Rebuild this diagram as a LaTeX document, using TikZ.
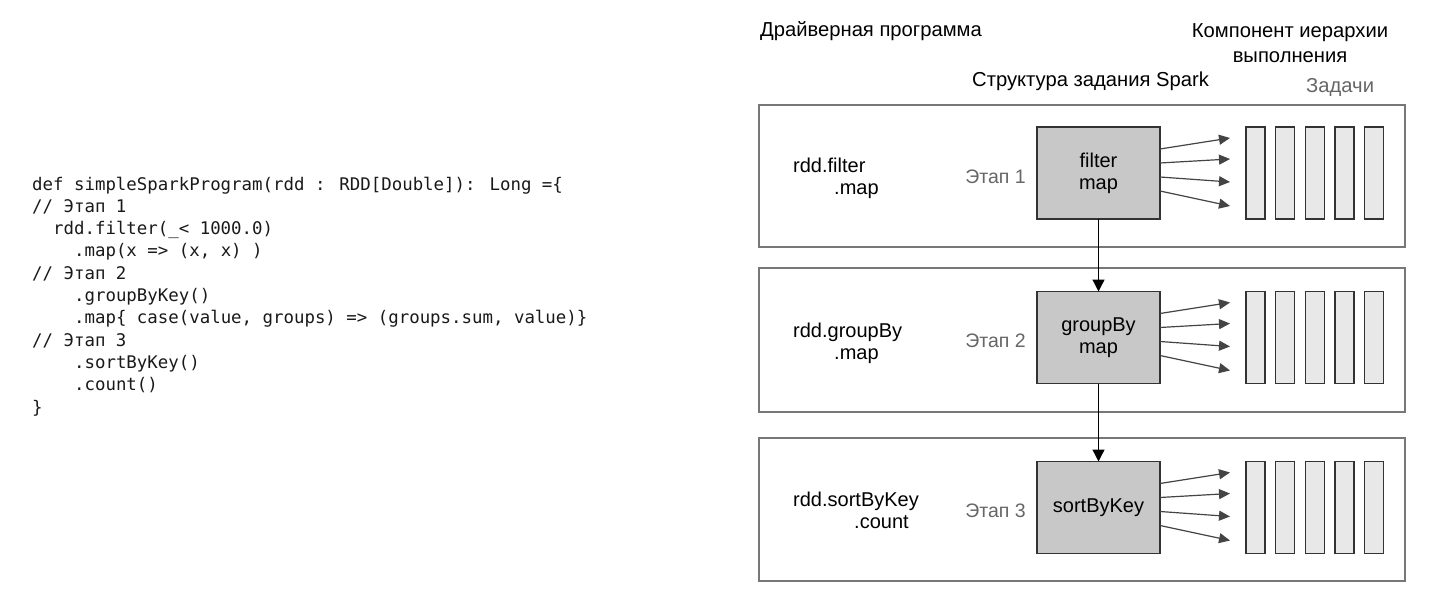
\documentclass[tikz,border=0pt]{standalone}
\usepackage{fontspec}
\setmainfont{Liberation Sans}
\newfontfamily\codefont{DejaVu Sans Mono}
\usetikzlibrary{arrows.meta,calc}
\definecolor{boxline}{HTML}{777777}
\definecolor{stagefill}{HTML}{C8C8C8}
\definecolor{taskfill}{HTML}{E8E8E8}
\definecolor{darkline}{HTML}{333333}
\definecolor{fanline}{HTML}{444444}
\definecolor{labelgray}{HTML}{666666}
\tikzset{
  codeline/.style={anchor=base west, inner sep=0pt, font=\codefont\fontsize{17.4}{20}\selectfont, text=black!90},
  stagebox/.style={draw=boxline, line width=1.4pt, fill=white, minimum width=646pt, inner sep=0pt, outer sep=0pt},
  opbox/.style={draw=darkline, line width=1.5pt, fill=stagefill, minimum width=123pt, minimum height=92pt, inner sep=0pt, outer sep=0pt, align=center, font=\fontsize{20}{22}\selectfont},
  taskbox/.style={draw=darkline, line width=1.4pt, fill=taskfill, minimum width=19pt, minimum height=92pt, inner sep=0pt, outer sep=0pt},
  boxtext/.style={anchor=base west, inner sep=0pt, font=\fontsize{20}{22}\selectfont},
  stagelabel/.style={anchor=base east, inner sep=0pt, text=labelgray, font=\fontsize{19.5}{22}\selectfont},
  header/.style={inner sep=0pt, font=\fontsize{20.2}{25}\selectfont},
  fan/.style={draw=fanline, line width=1.2pt, -{Triangle[length=11pt,width=10pt]}},
  down/.style={draw=black, line width=1.3pt, -{Triangle[length=12pt,width=12pt]}},
}
\begin{document}
\begin{tikzpicture}[x=1pt,y=-1pt]
\useasboundingbox (0,0) rectangle (1434,596);
% code
\node[codeline] (c1) at (32,190) {def simpleSparkProgram(rdd : RDD[Double]): Long =\{};
\node[codeline] (c2) at (32,212.3) {// Этап 1};
\node[codeline] (c3) at (32,234.6) {\phantom{xx}rdd.filter(\_< 1000.0)};
\node[codeline] (c4) at (32,256.9) {\phantom{xxxx}.map(x => (x, x) )};
\node[codeline] (c5) at (32,279.2) {// Этап 2};
\node[codeline] (c6) at (32,301.5) {\phantom{xxxx}.groupByKey()};
\node[codeline] (c7) at (32,323.8) {\phantom{xxxx}.map\{ case(value, groups) => (groups.sum, value)\}};
\node[codeline] (c8) at (32,346.1) {// Этап 3};
\node[codeline] (c9) at (32,368.4) {\phantom{xxxx}.sortByKey()};
\node[codeline] (c10) at (32,390.7) {\phantom{xxxx}.count()};
\node[codeline] (c11) at (32,413.0) {\}};
% headers
\node[header, anchor=base west] (hd) at (760,37) {Драйверная программа};
\node[header, anchor=base, align=center] (hc) at (1290,63) {Компонент иерархии\\выполнения};
\node[header, anchor=base west] (hs) at (972,87) {Структура задания Spark};
\node[header, anchor=base west, text=labelgray] (ht) at (1306,93) {Задачи};
% stage boxes
\node[stagebox, minimum height=142pt] (b1) at (1082,176) {};
\node[stagebox, minimum height=144pt] (b2) at (1082,340) {};
\node[stagebox, minimum height=143pt] (b3) at (1082,509.5) {};
% op boxes
\node[opbox] (g1) at (1098.5,173) {filter\\map};
\node[opbox] (g2) at (1098.5,337.5) {groupBy\\map};
\node[opbox] (g3) at (1098.5,507.5) {sortByKey};
% stage labels
\node[stagelabel] (s1) at (1026,183) {Этап 1};
\node[stagelabel] (s2) at (1026,347.5) {Этап 2};
\node[stagelabel] (s3) at (1026,517.5) {Этап 3};
% rdd texts
\node[boxtext] (r1a) at (793,173) {rdd.filter};
\node[boxtext] (r1b) at (834,195) {.map};
\node[boxtext] (r2a) at (793,337) {rdd.groupBy};
\node[boxtext] (r2b) at (834,359) {.map};
\node[boxtext] (r3a) at (793,506) {rdd.sortByKey};
\node[boxtext] (r3b) at (854,528) {.count};
% tasks
\foreach \k/\yy in {1/173,2/337.5,3/507.5}{
  \foreach \i in {0,...,4}{
    \node[taskbox] (t\k\i) at (1255.5+29.6*\i,\yy) {};
  }
  \foreach \j/\sy/\ey in {1/-24/-35,2/-10/-14,3/4/9,4/18/33}{
    \coordinate (e\k\j) at ($(g\k.center)+(131.5,\ey)$);
    \draw[fan] ($(g\k.east)+(0,\sy)$) -- (e\k\j);
  }
}
% stage flow
\draw[down] (g1.south) -- (g2.north);
\draw[down] (g2.south) -- (g3.north);
\end{tikzpicture}
\end{document}
